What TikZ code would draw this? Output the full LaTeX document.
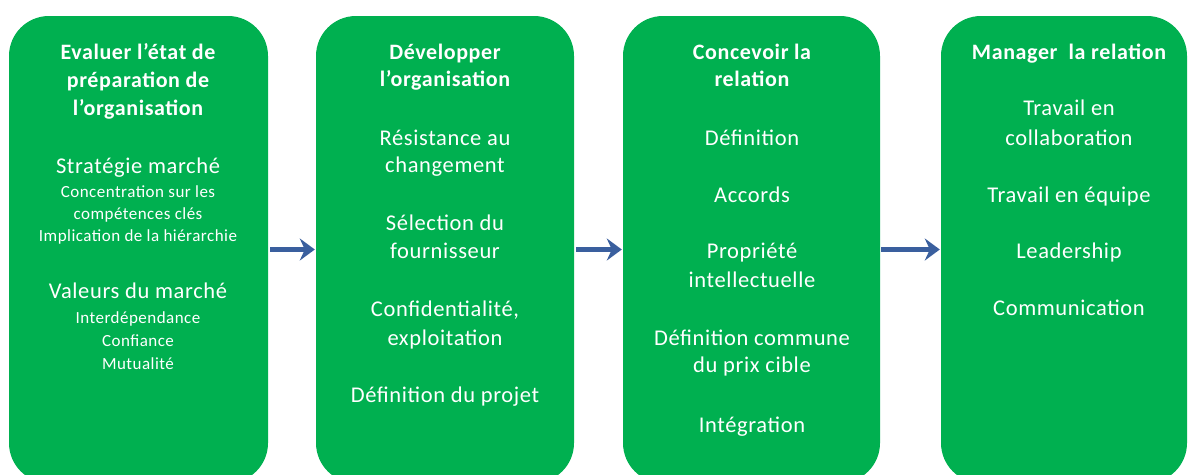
\documentclass[tikz,border=0pt]{standalone}
\usepackage{fontspec}
\setmainfont{Carlito}[LetterSpace=2.8]
\usetikzlibrary{arrows.meta}
\definecolor{boxgreen}{HTML}{00B050}
\definecolor{arrowblue}{HTML}{3A5F9E}
\begin{document}
\begin{tikzpicture}[x=1pt,y=-1pt,
  stage/.style={draw=none,fill=boxgreen,rounded corners=40pt,minimum height=467pt,inner sep=0pt},
  head/.style={anchor=base,text=white,inner sep=0pt,font=\fontsize{22}{26}\selectfont\bfseries},
  item/.style={anchor=base,text=white,inner sep=0pt,font=\fontsize{22.5}{26}\selectfont},
  small/.style={anchor=base,text=white,inner sep=0pt,font=\fontsize{17}{20}\selectfont},
  flow/.style={draw=arrowblue,line width=5pt,-{Stealth[length=15pt,width=22pt,inset=5pt]}}]
\useasboundingbox (0,0) rectangle (1188,474);
\clip (0,0) rectangle (1188,474);
\node[stage,minimum width=259pt] (b1) at (138.5,249.5) {};
\node[stage,minimum width=258pt] (b2) at (445,249.5) {};
\node[stage,minimum width=257pt] (b3) at (751.5,249.5) {};
\node[stage,minimum width=246pt] (b4) at (1064,249.5) {};
% box 1
\node[head] (h1a) at (138,59) {Evaluer l’état de};
\node[head] (h1b) at (138,87) {préparation de};
\node[head] (h1c) at (138,115) {l’organisation};
\node[item] (i1a) at (138,173) {Stratégie marché};
\node[small] (s1a) at (138,197) {Concentration sur les};
\node[small] (s1b) at (138,219) {compétences clés};
\node[small] (s1c) at (138,241) {Implication de la hiérarchie};
\node[item] (i1b) at (138,298) {Valeurs du marché};
\node[small] (s1d) at (138,323) {Interdépendance};
\node[small] (s1e) at (138,346) {Confiance};
\node[small] (s1f) at (138,369) {Mutualité};
% box 2
\node[head] (h2a) at (445,59) {Développer};
\node[head] (h2b) at (445,86) {l’organisation};
\node[item] (i2a) at (445,145) {Résistance au};
\node[item] (i2b) at (445,172) {changement};
\node[item] (i2c) at (445,230) {Sélection du};
\node[item] (i2d) at (445,258) {fournisseur};
\node[item] (i2e) at (445,316) {Confidentialité,};
\node[item] (i2f) at (445,345) {exploitation};
\node[item] (i2g) at (445,402) {Définition du projet};
% box 3
\node[head] (h3a) at (752,59) {Concevoir la};
\node[head] (h3b) at (752,86) {relation};
\node[item] (i3a) at (752,145) {Définition};
\node[item] (i3b) at (752,202) {Accords};
\node[item] (i3c) at (752,258) {Propriété};
\node[item] (i3d) at (752,287) {intellectuelle};
\node[item] (i3e) at (752,345) {Définition commune};
\node[item] (i3f) at (752,372) {du prix cible};
\node[item] (i3g) at (752,432) {Intégration};
% box 4
\node[head] (h4a) at (1069,59) {Manager~ la relation};
\node[item] (i4a) at (1069,115) {Travail en};
\node[item] (i4b) at (1069,145) {collaboration};
\node[item] (i4c) at (1069,202) {Travail en équipe};
\node[item] (i4d) at (1069,258) {Leadership};
\node[item] (i4e) at (1069,315) {Communication};
% arrows
\draw[flow] ([xshift=2pt]b1.east) -- ([xshift=-1pt]b2.west);
\draw[flow] ([xshift=2pt]b2.east) -- ([xshift=-1pt]b3.west);
\draw[flow] ([xshift=1pt]b3.east) -- ([xshift=-1pt]b4.west);
\end{tikzpicture}
\end{document}
